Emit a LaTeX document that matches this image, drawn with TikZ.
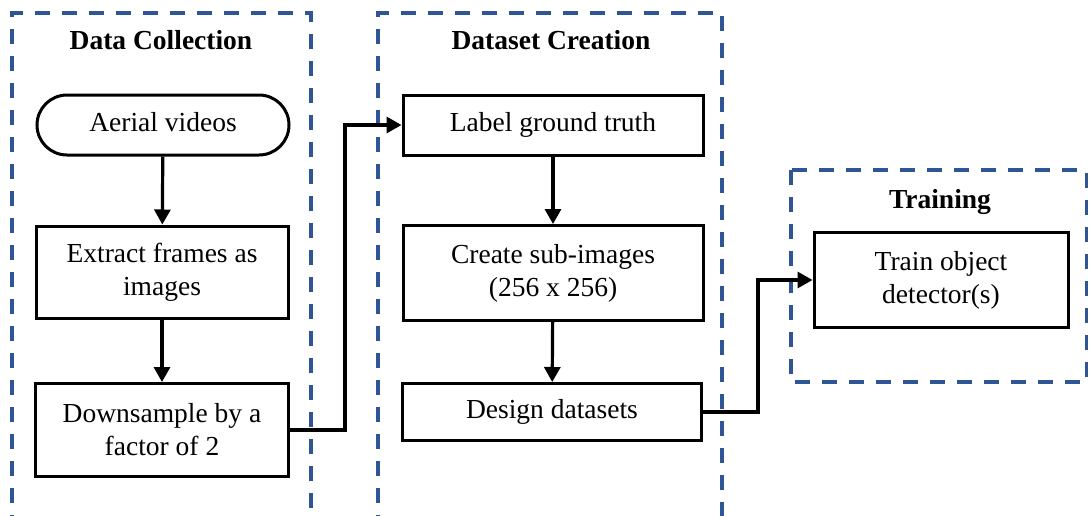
\documentclass[tikz,border=0pt]{standalone}
\usepackage{fontspec}
\setmainfont{Liberation Serif}
\usetikzlibrary{arrows.meta,shapes.misc}
\definecolor{stageblue}{RGB}{47,85,151}
\begin{document}
\begin{tikzpicture}[x=1pt,y=-1pt,
  txt/.style={font=\fontsize{27.5}{33}\selectfont, align=center},
  stagebox/.style={draw=stageblue, line width=3.5pt, dash pattern=on 15pt off 12pt},
  stagetitle/.style={font=\fontsize{27.5}{33}\selectfont\bfseries, anchor=base},
  procbox/.style={txt, draw, line width=3pt, rectangle, inner sep=0pt},
  termbox/.style={txt, draw, line width=3pt, rounded rectangle, inner sep=0pt},
  arr/.style={line width=3.2pt, -{Triangle[length=15pt,width=16pt]}}]
\useasboundingbox (0,0) rectangle (1089,515);

% stage frames
\draw[stagebox] (12,530) -- (12,13) -- (311,13) -- (311,530);
\draw[stagebox] (378,530) -- (378,13) -- (722,13) -- (722,530);
\draw[stagebox] (791,170) rectangle (1086.5,382);

% stage titles
\node[stagetitle] (t1) at (161,49) {Data Collection};
\node[stagetitle] (t2) at (551,49) {Dataset Creation};
\node[stagetitle] (t3) at (940,208) {Training};

% data collection
\node[termbox, minimum width=252pt, minimum height=60pt] (aerial) at (163,125) {Aerial videos\vphantom{g}};
\node[procbox, minimum width=252pt, minimum height=92pt] (extract) at (162,272) {Extract frames as\\images};
\node[procbox, minimum width=253pt, minimum height=93pt] (down) at (162,430) {Downsample by a\\factor of 2};

% dataset creation
\node[procbox, minimum width=300pt, minimum height=60pt] (label) at (553,125) {Label ground truth};
\node[procbox, minimum width=300pt, minimum height=95pt] (create) at (553,273) {Create sub-images\\(256 x 256)};
\node[procbox, minimum width=299pt, minimum height=57pt] (design) at (552,412) {Design datasets};

% training
\node[procbox, minimum width=254pt, minimum height=95pt] (train) at (941,280) {Train object\\detector(s)};

% flow
\draw[arr] (aerial) -- (extract);
\draw[arr] (extract) -- (down);
\draw[arr] (label) -- (create);
\draw[arr] (create) -- (design);
\coordinate (j1) at (345,300);
\coordinate (j2) at (758,350);
\draw[arr] (down.east) -| (j1) |- (label.west);
\draw[arr] (design.east) -| (j2) |- (train.west);
\end{tikzpicture}
\end{document}
